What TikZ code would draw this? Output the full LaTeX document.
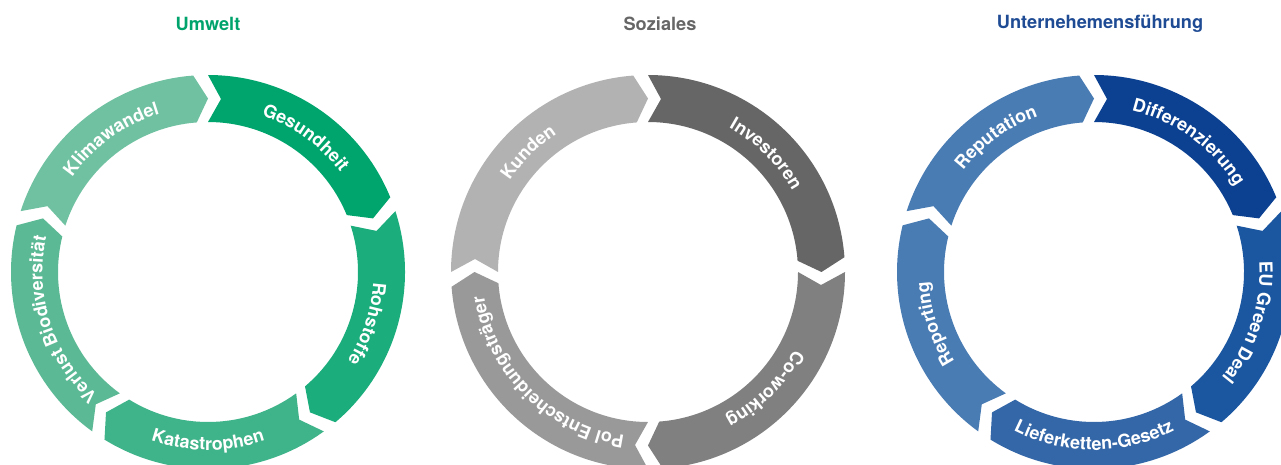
\documentclass[tikz,border=0pt]{standalone}
\usepackage{fontspec}
\setmainfont{TeX Gyre Heros}
\usepackage{xcolor}
\usepackage{tikz}
\usetikzlibrary{decorations.text}

% colours
\definecolor{umTitle}{HTML}{00A36C}
\definecolor{umKlima}{HTML}{6FC1A1}
\definecolor{umGes}{HTML}{00A56D}
\definecolor{umRoh}{HTML}{1BAD7B}
\definecolor{umKat}{HTML}{3FB389}
\definecolor{umBio}{HTML}{5BBA95}
\definecolor{soTitle}{HTML}{666666}
\definecolor{soKunden}{HTML}{B2B2B2}
\definecolor{soInv}{HTML}{666666}
\definecolor{soCo}{HTML}{808080}
\definecolor{soPol}{HTML}{999999}
\definecolor{ufTitle}{HTML}{1E4B94}
\definecolor{ufRep}{HTML}{4A7CB4}
\definecolor{ufDiff}{HTML}{0C4191}
\definecolor{ufEU}{HTML}{1B56A0}
\definecolor{ufLief}{HTML}{3467A8}
\definecolor{ufRepo}{HTML}{4A7CB4}

\newcommand\labfont{\fontsize{18}{21}\selectfont\bfseries\color{white}}

\begin{document}
\begin{tikzpicture}[
    x=1pt, y=1pt,
    title/.style={font=\fontsize{18.2}{21}\selectfont\bfseries},
    arclabel/.style={decorate, decoration={text along path, text/.expanded={|\noexpand\labfont|#1}, text align=center}}
]
\useasboundingbox (0,0) rectangle (1281,-465);
\clip (0,0) rectangle (1281,-465);

% === Titles ===
\node[title, text=umTitle] (tUmwelt) at (208,-24) {Umwelt};
\node[title, text=soTitle] (tSoziales) at (660,-24) {Soziales};
\node[title, text=ufTitle] (tFuehrung) at (1100,-24) {Unternehemensführung};

% === Umwelt ===
\begin{scope}[shift={(208,-272)}]
\def\hs{36}
\foreach \a/\b/\col/\txt/\sgn in {162/90/umKlima/Klimawandel/1, 90/18/umGes/Gesundheit/1,
    18/-54/umRoh/Rohstoffe/1, -54/-126/umKat/Katastrophen/-1, -126/-198/umBio/Verlust Biodiversität/1} {
    \pgfmathsetmacro\be{\b+4.3}
    \pgfmathsetmacro\an{\a-4.3}
    \pgfmathsetmacro\m{(\a+\b)/2}
    \pgfmathsetmacro\ts{\m+\sgn*\hs}
    \pgfmathsetmacro\te{\m-\sgn*\hs}
    \pgfmathsetmacro\tr{\sgn>0 ? 165.5 : 178}
    \fill[fill=\col] (\a:197pt) arc[start angle=\a, end angle=\be, radius=197pt] -- (\b:173.5pt)
        -- (\be:150pt) arc[start angle=\be, end angle=\a, radius=150pt] -- (\an:173.5pt) -- cycle;
    \path[arclabel=\txt] (\ts:\tr pt) arc[start angle=\ts, end angle=\te, radius=\tr pt];
}
\end{scope}

% === Soziales ===
\begin{scope}[shift={(648,-272)}]
\def\hs{45}
\foreach \a/\b/\col/\txt/\sgn in {180/90/soKunden/Kunden/1, 90/0/soInv/Investoren/1,
    0/-90/soCo/Co-working/1, -90/-180/soPol/Pol Entscheidungsträger/1} {
    \pgfmathsetmacro\be{\b+4.3}
    \pgfmathsetmacro\an{\a-4.3}
    \pgfmathsetmacro\m{(\a+\b)/2}
    \pgfmathsetmacro\ts{\m+\sgn*\hs}
    \pgfmathsetmacro\te{\m-\sgn*\hs}
    \pgfmathsetmacro\tr{\sgn>0 ? 165.5 : 178}
    \fill[fill=\col] (\a:197pt) arc[start angle=\a, end angle=\be, radius=197pt] -- (\b:173.5pt)
        -- (\be:150pt) arc[start angle=\be, end angle=\a, radius=150pt] -- (\an:173.5pt) -- cycle;
    \path[arclabel=\txt] (\ts:\tr pt) arc[start angle=\ts, end angle=\te, radius=\tr pt];
}
\end{scope}

% === Unternehemensfuehrung ===
\begin{scope}[shift={(1094,-272)}]
\def\hs{36}
\foreach \a/\b/\col/\txt/\sgn in {162/90/ufRep/Reputation/1, 90/18/ufDiff/Differenzierung/1,
    18/-54/ufEU/EU Green Deal/1, -54/-126/ufLief/Lieferketten-Gesetz/-1, -126/-198/ufRepo/Reporting/1} {
    \pgfmathsetmacro\be{\b+4.3}
    \pgfmathsetmacro\an{\a-4.3}
    \pgfmathsetmacro\m{(\a+\b)/2}
    \pgfmathsetmacro\ts{\m+\sgn*\hs}
    \pgfmathsetmacro\te{\m-\sgn*\hs}
    \pgfmathsetmacro\tr{\sgn>0 ? 165.5 : 178}
    \fill[fill=\col] (\a:197pt) arc[start angle=\a, end angle=\be, radius=197pt] -- (\b:173.5pt)
        -- (\be:150pt) arc[start angle=\be, end angle=\a, radius=150pt] -- (\an:173.5pt) -- cycle;
    \path[arclabel=\txt] (\ts:\tr pt) arc[start angle=\ts, end angle=\te, radius=\tr pt];
}
\end{scope}
\end{tikzpicture}
\end{document}
